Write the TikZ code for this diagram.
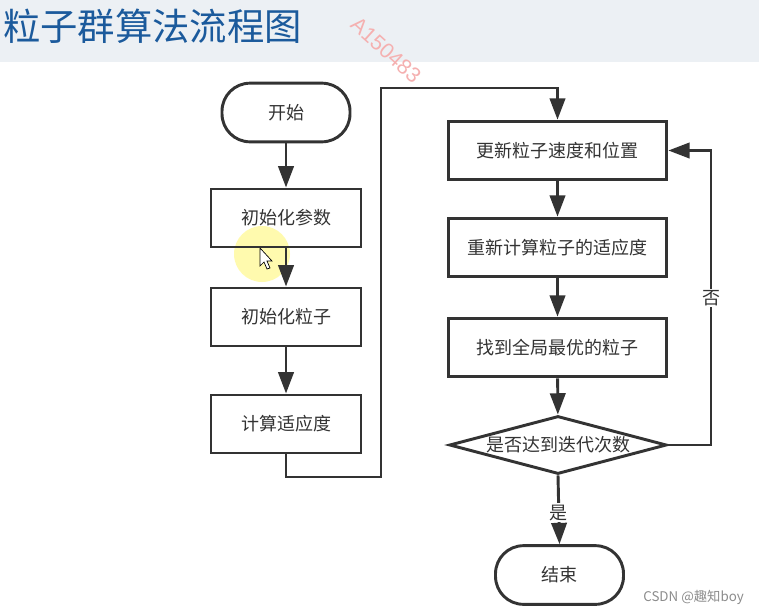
\documentclass[tikz,border=0pt]{standalone}
\usepackage{fontspec}
\setmainfont{Noto Sans CJK SC}
\newfontfamily\latinsans{Liberation Sans}
\usetikzlibrary{shapes.geometric,arrows.meta}
\definecolor{ln}{HTML}{333333}
\definecolor{hdr}{HTML}{ECF0F4}
\definecolor{titleblue}{HTML}{1B5A9C}
\definecolor{wmpink}{HTML}{F5B0B0}
\begin{document}
\begin{tikzpicture}[x=0.75pt,y=-0.75pt,
  box/.style={draw=ln, line width=2.2pt, minimum width=112.5pt, minimum height=43.5pt, inner sep=0pt, font=\fontsize{13.5}{16}\selectfont, text=ln},
  wbox/.style={box, minimum width=164pt, minimum height=44pt},
  term/.style={box, rounded corners=21pt, minimum width=96pt, minimum height=44pt},
  dec/.style={box, diamond, shape aspect=3.74, minimum width=163pt, minimum height=43.5pt},
  arr/.style={draw=ln, line width=2.2pt, -{Triangle[length=16pt,width=11.5pt]}},
  lbl/.style={fill=white, inner sep=1pt, text=ln, font=\fontsize{13.5}{16}\selectfont}]
\useasboundingbox (0,0) rectangle (759,614);
\fill[white] (0,0) rectangle (759,614);
\fill[hdr] (0,0) rectangle (759,62);
\node[anchor=west, inner sep=0pt, font=\fontsize{28}{30}\selectfont, text=titleblue] (title) at (3,26) {粒子群算法流程图};
\node[rotate=-42, inner sep=0pt, font=\latinsans\fontsize{16}{18}\selectfont, text=wmpink] (wm) at (386,50) {A150483};

% highlight and cursor
\fill[yellow!70!white, opacity=0.45] (262,254) circle (28);
\draw[black, fill=white, line width=0.5pt] (260,248) -- (260,266) -- (264,262) -- (267,269) -- (270,268) -- (267,261) -- (272,261) -- cycle;

\node[term] (start) at (286,112.5) {开始};
\node[box] (p1) at (286,218) {初始化参数};
\node[box] (p2) at (286,317) {初始化粒子};
\node[box] (p3) at (286,424) {计算适应度};
\node[wbox] (q1) at (557.5,150.5) {更新粒子速度和位置};
\node[wbox] (q2) at (557.5,247.5) {重新计算粒子的适应度};
\node[wbox] (q3) at (557.5,347.5) {找到全局最优的粒子};
\node[dec] (d) at (558,445) {是否达到迭代次数};
\node[term] (end) at (559.5,575) {结束};

\coordinate (c1) at (381,477);
\coordinate (c2) at (381,88);
\coordinate (c3) at (711,445);

\draw[arr] (start) -- (p1);
\draw[arr] (p1) -- (p2);
\draw[arr] (p2) -- (p3);
\draw[arr] (p3.south) |- (c1) -- (c2) -| (q1.north);
\draw[arr] (q1) -- (q2);
\draw[arr] (q2) -- (q3);
\draw[arr] (q3) -- (d);
\draw[arr] (d.east) -- (c3) |- node[lbl, pos=0.25] (no) {否} (q1.east);
\draw[arr] (d.south) -- node[lbl, pos=0.54] (yes) {是} (end.north);

\node[anchor=east, inner sep=0pt, text=black!45, font=\fontsize{10}{12}\selectfont] (csdn) at (744,597) {CSDN @趣知boy};
\end{tikzpicture}
\end{document}
